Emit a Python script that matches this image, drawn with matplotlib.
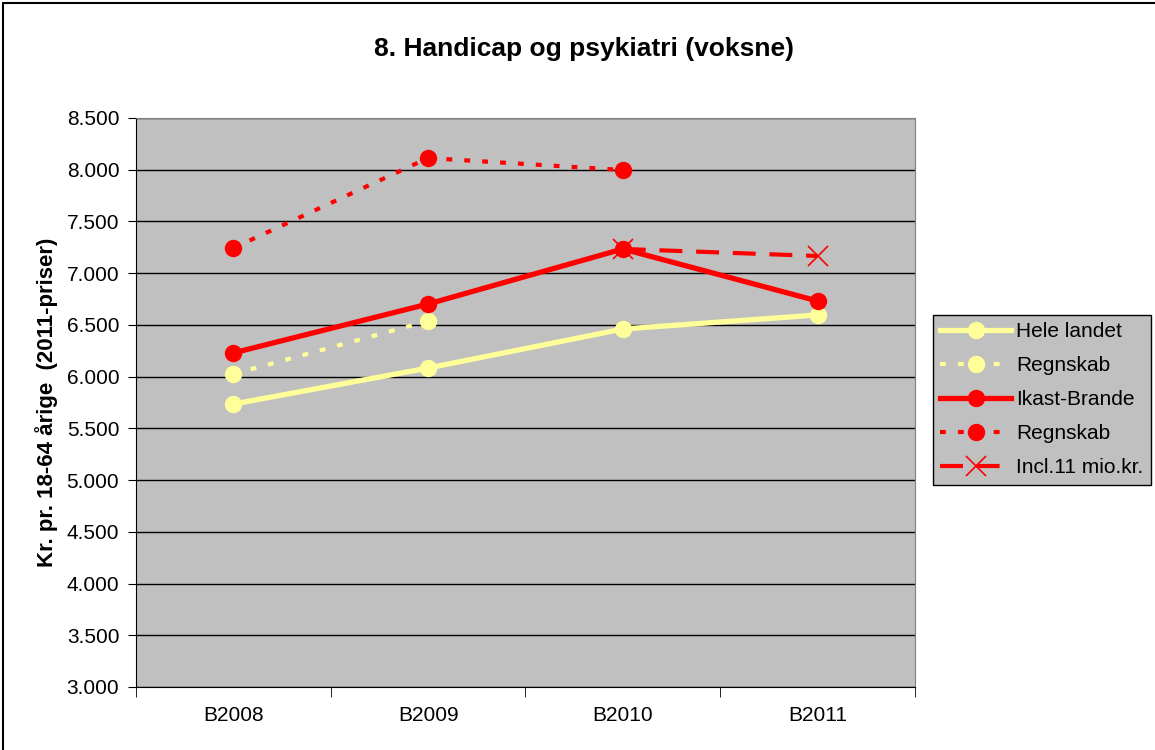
import numpy as np
import matplotlib.pyplot as plt
from matplotlib.ticker import FuncFormatter

plt.rcParams['font.family'] = ['Liberation Sans', 'DejaVu Sans']

# data
categories = ["B2008", "B2009", "B2010", "B2011"]
hele_landet = [5735, 6083, 6460, 6596]
regnskab_land = [6025, 6538, None, None]
ikast_brande = [6229, 6702, 7234, 6731]
regnskab_ikast = [7243, 8113, 7997, None]
incl_11_mio = [None, None, 7234, 7166]

x = np.arange(len(categories)) + 0.5

def arr(vals):
    return np.array([np.nan if v is None else v for v in vals], dtype=float)

fig = plt.figure(figsize=(11.55, 7.5), dpi=100)
ax = fig.add_axes([0.1177, 0.084, 0.6745, 0.7587])
ax.set_facecolor("#C0C0C0")

yellow = "#FFFF99"
red = "#FF0000"

l1, = ax.plot(x, arr(hele_landet), color=yellow, lw=3.8, marker="o", ms=11.5,
              label="Hele landet", zorder=3)
l2, = ax.plot(x, arr(regnskab_land), color=yellow, lw=3, ls=(0, (1.4, 2.9)),
              marker="o", ms=11.5, label="Regnskab", zorder=3)
l3, = ax.plot(x, arr(ikast_brande), color=red, lw=3.8, marker="o", ms=11.5,
              label="Ikast-Brande", zorder=4)
l4, = ax.plot(x, arr(regnskab_ikast), color=red, lw=3, ls=(0, (1.4, 2.9)),
              marker="o", ms=11.5, label="Regnskab", zorder=4)
l5, = ax.plot(x, arr(incl_11_mio), color=red, lw=3, ls=(0, (5.5, 3.3)),
              marker="x", ms=14, mew=1.2, label="Incl.11 mio.kr.", zorder=4)

ax.set_xlim(0, 4)
ax.set_ylim(3000, 8500)
ax.set_yticks(np.arange(3000, 8501, 500))
ax.yaxis.set_major_formatter(FuncFormatter(lambda v, p: f"{int(v):,}".replace(",", ".")))
ax.set_xticks(x)
ax.set_xticklabels(categories)
ax.set_xticks(np.arange(0, 5), minor=True)
ax.tick_params(axis="x", which="major", length=0, pad=14, labelsize=15)
ax.tick_params(axis="x", which="minor", length=7, direction="out")
ax.tick_params(axis="y", length=6, direction="out", labelsize=15, pad=6)
ax.grid(axis="y", color="black", lw=1, zorder=1)
ax.set_axisbelow(True)
for side in ["top", "right"]:
    ax.spines[side].set_color("#808080")
for side in ["left", "bottom"]:
    ax.spines[side].set_color("black")

ax.set_ylabel("Kr. pr. 18-64 årige  (2011-priser)", fontsize=16, fontweight="bold",
              labelpad=6)

fig.text(0.506, 0.935, "8. Handicap og psykiatri (voksne)", ha="center", va="center",
         fontsize=19, fontweight="bold")

leg = fig.legend(handles=[l1, l2, l3, l4, l5], loc="upper left",
                 bbox_to_anchor=(0.8078, 0.58), borderaxespad=0, fontsize=15,
                 frameon=True, fancybox=False, handlelength=3.4, borderpad=0.35,
                 labelspacing=0.72, handletextpad=0.25)
leg.get_frame().set_facecolor("#C0C0C0")
leg.get_frame().set_edgecolor("black")
leg.get_frame().set_alpha(1)

# outer chart border
fig.patches.append(plt.Rectangle((0.003, -0.01), 1.1, 1.006, transform=fig.transFigure,
                                 fill=False, edgecolor="black", lw=1.5))

fig.savefig("out.png", dpi=100, facecolor="white")
